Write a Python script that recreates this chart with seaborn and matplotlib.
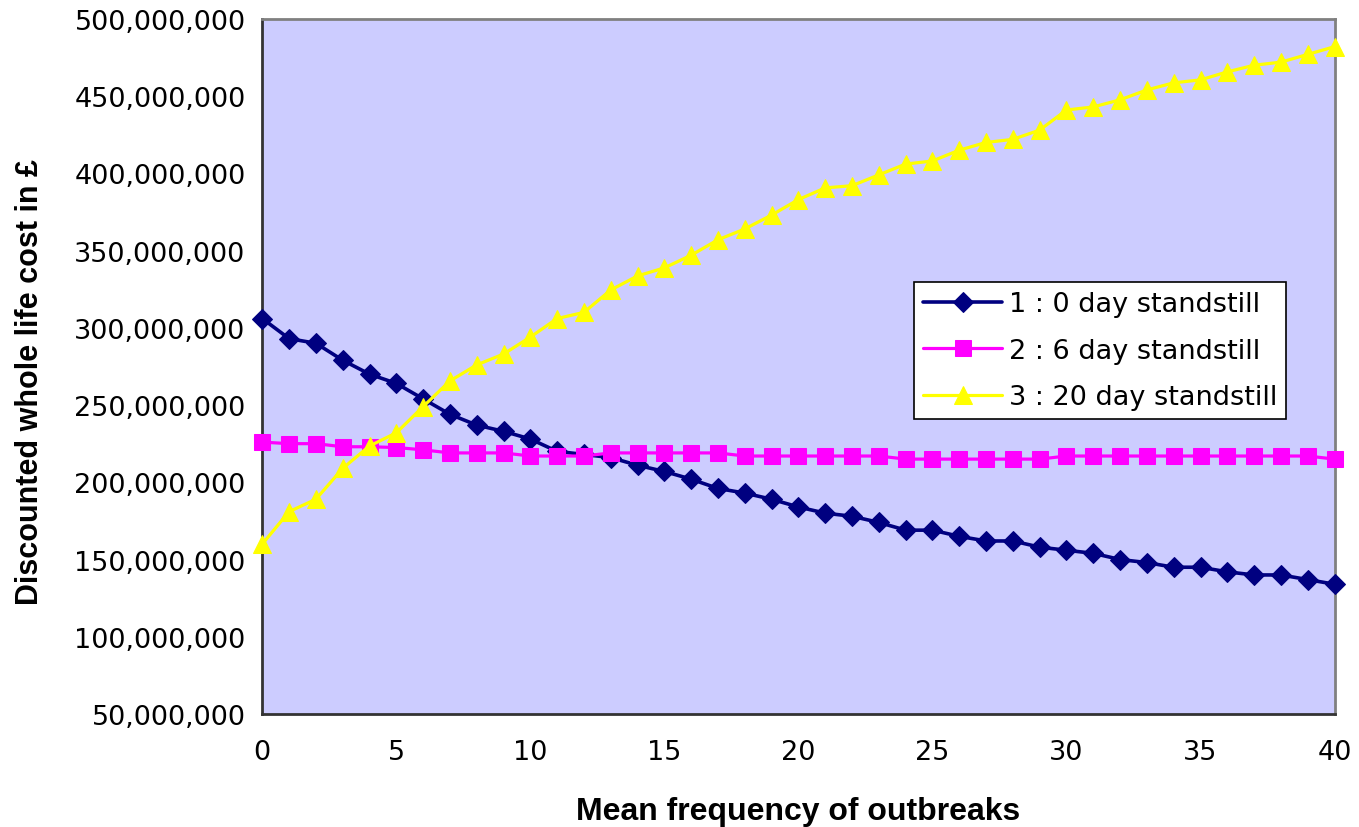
import numpy as np
import pandas as pd
import seaborn as sns
import matplotlib.pyplot as plt
from matplotlib.ticker import FuncFormatter

# mean frequency of outbreaks
freq = list(range(0, 41))

# discounted whole life cost, in millions of pounds
cost_0day = [306, 293, 290, 279, 270, 264, 254, 244, 237, 233,
             228, 220, 218, 216, 211, 207, 202, 196, 193, 189,
             184, 180, 178, 174, 169, 169, 165, 162, 162, 158,
             156, 154, 150, 148, 145, 145, 142, 140, 140, 137,
             134]
cost_6day = [226, 225, 225, 223, 223, 222.5, 221, 219, 219, 219,
             217, 217, 217, 219, 219, 219, 219, 219, 217, 217,
             217, 217, 217, 217, 215, 215, 215, 215, 215, 215,
             217, 217, 217, 217, 217, 217, 217, 217, 217, 217,
             215]
cost_20day = [160, 181, 189, 209, 223.5, 232, 249, 265.6, 276, 283,
              294, 306, 310, 324.5, 333.6, 338.8, 347, 357, 364, 373,
              383, 390.6, 392, 399, 406, 408, 415, 420, 422, 428,
              441, 443, 447.6, 454, 458.6, 460.5, 465.7, 470, 472, 477,
              482]

labels = ['1 : 0 day standstill', '2 : 6 day standstill', '3 : 20 day standstill']
colors = ['#000080', '#FF00FF', '#FFFF00']
markers = ['D', 's', '^']
msizes = [10.5, 12, 13]
lwidths = [2.6, 2.3, 2.3]

df = pd.DataFrame({
    'freq': freq * 3,
    'cost': np.concatenate([cost_0day, cost_6day, cost_20day]) * 1e6,
    'series': np.repeat(labels, len(freq)),
})

sns.set_style('white')
plt.rcParams['font.family'] = ['DejaVu Sans']
plt.rcParams['text.color'] = 'black'

fig, ax = plt.subplots(figsize=(13.59, 8.28), dpi=100)
fig.subplots_adjust(left=0.193, right=0.982, top=0.976, bottom=0.1365)
ax.set_facecolor('#CCCCFF')

for lab, c, m, ms, lw in zip(labels, colors, markers, msizes, lwidths):
    sns.lineplot(data=df[df['series'] == lab], x='freq', y='cost', ax=ax,
                 color=c, marker=m, markersize=ms, markeredgecolor=c,
                 linewidth=lw, label=lab, clip_on=False, zorder=3)

ax.set_xlim(0, 40)
ax.set_ylim(50e6, 500e6)
ax.set_xticks(range(0, 41, 5))
ax.set_yticks(np.arange(50e6, 500e6 + 1, 50e6))
ax.yaxis.set_major_formatter(FuncFormatter(lambda v, p: f'{int(v):,}'))
ax.tick_params(axis='both', direction='inout', length=12, width=1.2,
               labelsize=19.5, colors='black')
ax.tick_params(axis='y', pad=6)
ax.tick_params(axis='x', pad=12)

for s in ['top', 'right']:
    ax.spines[s].set_color('#808080')
    ax.spines[s].set_linewidth(2)
for s in ['left', 'bottom']:
    ax.spines[s].set_color('#333333')
    ax.spines[s].set_linewidth(2)

ax.set_xlabel('Mean frequency of outbreaks', fontsize=23, fontweight='bold',
              family='Liberation Sans', color='black', labelpad=22)
ax.set_ylabel('Discounted whole life cost in £', fontsize=22, fontweight='bold',
              family='Liberation Sans', color='black')
ax.yaxis.set_label_coords(-0.203, 0.479)

leg = ax.legend(loc='upper left', bbox_to_anchor=(0.6076, 0.6216), fontsize=19.5,
                frameon=True, fancybox=False, framealpha=1, edgecolor='black',
                handlelength=2.9, borderpad=0.35, labelspacing=0.75, handletextpad=0.25,
                borderaxespad=0)
leg.get_frame().set_linewidth(1.2)

plt.savefig('out.png', dpi=100)
